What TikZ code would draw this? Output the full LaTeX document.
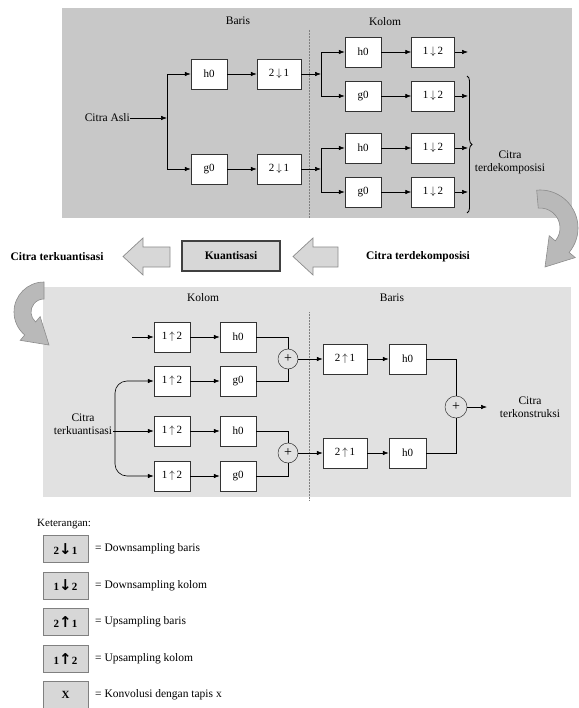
\documentclass[tikz,border=0pt]{standalone}
\usepackage{fontspec}
\setmainfont{Liberation Serif}
\newfontfamily\dejavusym{DejaVu Sans}
\usetikzlibrary{arrows.meta,decorations.pathreplacing}
\definecolor{toppanel}{RGB}{200,200,200}
\definecolor{botpanel}{RGB}{225,225,225}
\definecolor{blockfill}{RGB}{215,215,215}
\definecolor{blockdraw}{RGB}{140,140,140}
\definecolor{curvfill}{RGB}{185,185,185}
\definecolor{legfill}{RGB}{215,215,215}
\newcommand{\legdown}{{\dejavusym\bfseries\fontsize{15}{15}\selectfont ↓}}
\newcommand{\legup}{{\dejavusym\bfseries\fontsize{15}{15}\selectfont ↑}}
\begin{document}
\begin{tikzpicture}[x=1pt,y=1pt,
  box/.style={draw=black!80, line width=0.5pt, fill=white, minimum height=30pt, inner sep=0pt, font=\fontsize{11}{12}\selectfont},
  fbox/.style={box, minimum width=36pt},
  sbox/.style={box, minimum width=44pt},
  arr/.style={-{Latex[length=6pt,width=4.5pt]}, line width=0.6pt},
  ln/.style={line width=0.6pt},
  lbl/.style={font=\fontsize{11.5}{13}\selectfont, align=center, inner sep=0pt},
  blbl/.style={font=\bfseries\fontsize{11.5}{13}\selectfont, align=center, inner sep=0pt},
  sumc/.style={circle, draw=black!80, line width=0.5pt, minimum size=20pt, inner sep=0pt, font=\fontsize{14}{14}\selectfont},
  blk/.style={fill=blockfill, draw=blockdraw, line width=0.7pt},
  curv/.style={fill=curvfill, draw=black!45, line width=0.6pt},
  leg/.style={draw=black!50, fill=legfill, line width=1pt, minimum width=45pt, minimum height=27pt, inner sep=0pt, font=\bfseries\fontsize{11}{12}\selectfont},
  legtxt/.style={font=\fontsize{11.5}{13}\selectfont, anchor=west, inner sep=0pt},
  sep/.style={densely dotted, draw=black!50, line width=0.5pt}
]
\useasboundingbox (0,0) rectangle (578,-708);
% ---------- panels
\fill[toppanel] (62,-8) rectangle (572,-218);
\fill[botpanel] (43,-287) rectangle (571,-497);
\draw[sep] (309,-30) -- (309,-218);
\draw[sep] (309,-312) -- (309,-500);

% ---------- top panel
\node[lbl] (baris1) at (238,-21) {Baris};
\node[lbl] (kolom1) at (385,-22) {Kolom};
\node[lbl, anchor=east] (asli) at (130,-118) {Citra Asli};
\coordinate (s1) at (167,-118);
\node[fbox] (th) at (209,-74) {h0};
\node[sbox] (td1) at (279,-74) {2\,$\downarrow$\,1};
\node[fbox] (tg) at (209,-169) {g0};
\node[sbox] (td2) at (279,-169) {2\,$\downarrow$\,1};
\coordinate (s2) at (321,-74);
\coordinate (s3) at (321,-169);
\node[fbox] (kh1) at (363,-52) {h0};
\node[fbox] (kg1) at (363,-96) {g0};
\node[fbox] (kh2) at (363,-148) {h0};
\node[fbox] (kg2) at (363,-192) {g0};
\node[box, minimum width=43pt] (kd1) at (433,-52) {1\,$\downarrow$\,2};
\node[box, minimum width=43pt] (kd2) at (433,-96) {1\,$\downarrow$\,2};
\node[box, minimum width=43pt] (kd3) at (433,-148) {1\,$\downarrow$\,2};
\node[box, minimum width=43pt] (kd4) at (433,-192) {1\,$\downarrow$\,2};
\coordinate (o1) at (468,-52);
\coordinate (o2) at (468,-96);
\coordinate (o3) at (468,-148);
\coordinate (o4) at (468,-192);
\draw[arr] (asli) -- (s1);
\draw[arr] (s1) |- (th.west);
\draw[arr] (s1) |- (tg.west);
\draw[arr] (th) -- (td1);
\draw[arr] (tg) -- (td2);
\draw[arr] (td1) -- (s2);
\draw[arr] (td2) -- (s3);
\draw[arr] (s2) |- (kh1.west);
\draw[arr] (s2) |- (kg1.west);
\draw[arr] (s3) |- (kh2.west);
\draw[arr] (s3) |- (kg2.west);
\draw[arr] (kh1) -- (kd1);
\draw[arr] (kg1) -- (kd2);
\draw[arr] (kh2) -- (kd3);
\draw[arr] (kg2) -- (kd4);
\draw[arr] (kd1) -- (o1);
\draw[arr] (kd2) -- (o2);
\draw[arr] (kd3) -- (o3);
\draw[arr] (kd4) -- (o4);
\coordinate (bra) at (467,-76);
\coordinate (brb) at (467,-213);
\draw[decorate, decoration={brace, amplitude=5pt}, line width=0.8pt] (bra) -- (brb);
\node[lbl] (cdek) at (510,-162) {Citra\\terdekomposisi};

% ---------- right curved arrow
\begin{scope}[shift={(540,-228)}]
\draw[curv] (95:38pt) arc[start angle=95, end angle=-40, radius=38pt]
  -- (-40:46pt) -- (5pt,-39pt) -- (-40:12pt) -- (-40:20pt)
  arc[start angle=-40, end angle=95, radius=20pt] -- cycle;
\end{scope}

% ---------- middle row
\node[blbl] (ckuan) at (57,-257) {Citra terkuantisasi};
\draw[blk] (170,-247) -- (143,-247) -- (143,-238) -- (123,-256.5) -- (143,-275) -- (143,-267) -- (170,-267) -- cycle;
\node[draw=black!75, fill=blockfill, line width=1.2pt, minimum width=98pt, minimum height=30pt, inner sep=0pt, font=\bfseries\fontsize{11.5}{13}\selectfont] (kuant) at (231,-256) {Kuantisasi};
\draw[blk] (338,-247) -- (313,-247) -- (313,-238) -- (293,-256.5) -- (313,-275) -- (313,-267) -- (338,-267) -- cycle;
\node[blbl] (cdek2) at (418,-257) {Citra terdekomposisi};

% ---------- bottom panel
\node[lbl] (kolom2) at (203,-298) {Kolom};
\node[lbl] (baris2) at (392,-298) {Baris};
\coordinate (in1) at (132,-337);
\node[fbox] (u1) at (172,-337) {1\,$\uparrow$\,2};
\node[fbox] (u2) at (172,-381) {1\,$\uparrow$\,2};
\node[fbox] (u3) at (172,-431) {1\,$\uparrow$\,2};
\node[fbox] (u4) at (172,-476) {1\,$\uparrow$\,2};
\node[fbox] (f1) at (238,-337) {h0};
\node[fbox] (f2) at (238,-381) {g0};
\node[fbox] (f3) at (238,-431) {h0};
\node[fbox] (f4) at (238,-476) {g0};
\node[lbl] (ckuan2) at (83,-424.5) {Citra\\terkuantisasi};
\coordinate (kq) at (113,-431);
\coordinate (br) at (115,-431);
\draw[arr] (in1) -- (u1);
\draw[arr] (kq) -- (u3);
\draw[arr, rounded corners=12pt] (br) |- (u2.west);
\draw[arr, rounded corners=12pt] (br) |- (u4.west);
\draw[arr] (u1) -- (f1);
\draw[arr] (u2) -- (f2);
\draw[arr] (u3) -- (f3);
\draw[arr] (u4) -- (f4);
\node[sumc] (c1) at (288,-359) {+};
\node[sumc] (c2) at (288,-453) {+};
\draw[ln] (f1.east) -| (c1.north);
\draw[ln] (f2.east) -| (c1.south);
\draw[ln] (f3.east) -| (c2.north);
\draw[ln] (f4.east) -| (c2.south);
\node[sbox] (b1) at (345,-359) {2\,$\uparrow$\,1};
\node[sbox] (b2) at (345,-453) {2\,$\uparrow$\,1};
\node[box, minimum width=37pt] (bh1) at (407.5,-359) {h0};
\node[box, minimum width=37pt] (bh2) at (407.5,-453) {h0};
\draw[arr] (c1) -- (b1);
\draw[arr] (c2) -- (b2);
\draw[arr] (b1) -- (bh1);
\draw[arr] (b2) -- (bh2);
\node[sumc, minimum size=22pt] (c3) at (456,-407) {+};
\draw[ln] (bh1.east) -| (c3.north);
\draw[ln] (bh2.east) -| (c3.south);
\coordinate (out) at (487,-407);
\draw[arr] (c3) -- (out);
\node[lbl] (ckon) at (530,-407) {Citra\\terkonstruksi};

% ---------- left curved arrow
\begin{scope}[shift={(44,-312)}]
\draw[curv] (90:30pt) arc[start angle=90, end angle=230, radius=30pt]
  -- (230:37pt) -- (5pt,-33pt) -- (230:6pt) -- (230:13pt)
  arc[start angle=230, end angle=90, radius=13pt] -- cycle;
\end{scope}

% ---------- legend
\node[font=\fontsize{11}{13}\selectfont, anchor=west, inner sep=0pt] (ket) at (37,-524) {Keterangan:};
\node[leg] (l1) at (65.5,-549) {2\legdown 1};
\node[leg] (l2) at (65.5,-585.5) {1\legdown 2};
\node[leg] (l3) at (65.5,-622) {2\legup 1};
\node[leg] (l4) at (65.5,-658.5) {1\legup 2};
\node[leg] (l5) at (65.5,-695) {X};
\node[legtxt] (t1) at (95,-549) {= Downsampling baris};
\node[legtxt] (t2) at (95,-585.5) {= Downsampling kolom};
\node[legtxt] (t3) at (95,-622) {= Upsampling baris};
\node[legtxt] (t4) at (95,-658.5) {= Upsampling kolom};
\node[legtxt] (t5) at (95,-695) {= Konvolusi dengan tapis x};
\end{tikzpicture}
\end{document}
